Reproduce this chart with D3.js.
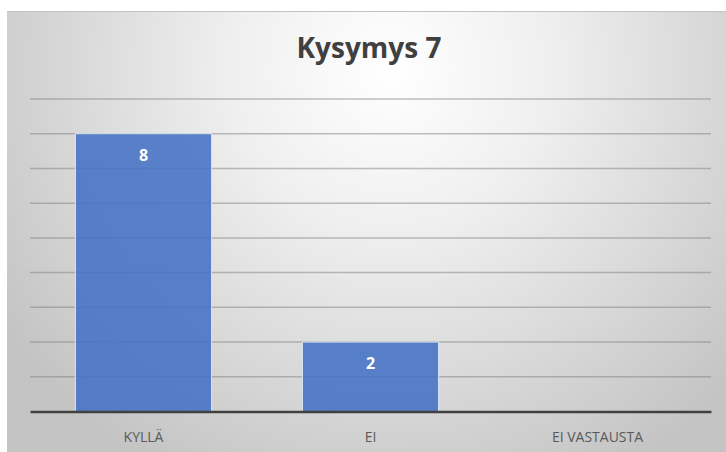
<!DOCTYPE html>
<html>
<head>
<meta charset="utf-8">
<script src="https://cdn.jsdelivr.net/npm/d3@7"></script>
<style>
  body { margin: 0; background: #fff; }
  svg { display: block; font-family: "Open Sans", sans-serif; }
</style>
</head>
<body>
<script>
// answers to question 7
var categories = ["KYLLÄ", "EI", "EI VASTAUSTA"];
var answers = [8, 2, 0];
var gridTicks = [1, 2, 3, 4, 5, 6, 7, 8, 9];
var title = "Kysymys 7";

var totalWidth = 726;
var totalHeight = 452;
var margin = {top: 99, right: 15, bottom: 40.5, left: 30};
var width = totalWidth - margin.left - margin.right;
var height = totalHeight - margin.top - margin.bottom;

var svg = d3.select("body").append("svg")
    .attr("width", totalWidth)
    .attr("height", totalHeight);

// background gradient
var grad = svg.append("defs").append("radialGradient")
    .attr("id", "bg")
    .attr("gradientUnits", "userSpaceOnUse")
    .attr("cx", 390).attr("cy", 70).attr("r", 460);
grad.append("stop").attr("offset", "0%").attr("stop-color", "#ffffff");
grad.append("stop").attr("offset", "35%").attr("stop-color", "#efefef");
grad.append("stop").attr("offset", "100%").attr("stop-color", "#c4c4c4");

svg.append("rect")
    .attr("x", 7).attr("y", 11)
    .attr("width", totalWidth - 7).attr("height", totalHeight - 11)
    .style("fill", "url(#bg)");
svg.append("line")
    .attr("x1", 7).attr("x2", totalWidth)
    .attr("y1", 11.5).attr("y2", 11.5)
    .style("stroke", "#c4c4c4");

var g = svg.append("g")
    .attr("transform", "translate(" + margin.left + "," + margin.top + ")");

var xScale = d3.scaleBand()
    .domain(categories)
    .range([0, width])
    .paddingInner(0.4)
    .paddingOuter(0.2);

var yScale = d3.scaleLinear()
    .domain([0, 9])
    .range([height, 0]);

// gridlines
g.selectAll(".grid")
    .data(gridTicks)
    .enter()
    .append("line")
    .attr("class", "grid")
    .attr("x1", 0).attr("x2", width)
    .attr("y1", function(d) {return yScale(d);})
    .attr("y2", function(d) {return yScale(d);})
    .style("stroke", "#7f7f7f")
    .style("stroke-opacity", 0.5)
    .style("stroke-width", 1.5);

// bars
g.selectAll(".bar")
    .data(answers)
    .enter()
    .append("rect")
    .attr("class", "bar")
    .attr("x", function(d, i) {return xScale(categories[i]);})
    .attr("y", function(d) {return yScale(d);})
    .attr("width", xScale.bandwidth())
    .attr("height", function(d) {return height - yScale(d);})
    .style("fill", "#4472c4")
    .style("fill-opacity", 0.88)
    .style("stroke", "#dce6f5")
    .style("stroke-width", 1);

// value labels
g.selectAll(".value")
    .data(answers)
    .enter()
    .append("text")
    .filter(function(d) {return d > 0;})
    .attr("x", function(d, i) {return xScale(categories[i]) + xScale.bandwidth() / 2;})
    .attr("y", function(d) {return yScale(d) + 27;})
    .style("text-anchor", "middle")
    .style("font-size", "16px")
    .style("font-weight", "bold")
    .style("fill", "#ffffff")
    .text(function(d) {return d;});

// x axis
var xAxis = g.append("g")
    .attr("transform", "translate(0," + height + ")")
    .call(d3.axisBottom(xScale).tickSize(0).tickPadding(21));
xAxis.select(".domain")
    .style("stroke", "#404040")
    .style("stroke-width", 2.5);
xAxis.selectAll("text")
    .style("font-family", "'Open Sans', sans-serif")
    .style("font-size", "14px")
    .style("fill", "#595959");

// title
svg.append("text")
    .attr("x", 369)
    .attr("y", 58)
    .style("text-anchor", "middle")
    .style("font-size", "28px")
    .style("font-weight", "bold")
    .style("fill", "#404040")
    .text(title);
</script>
</body>
</html>
